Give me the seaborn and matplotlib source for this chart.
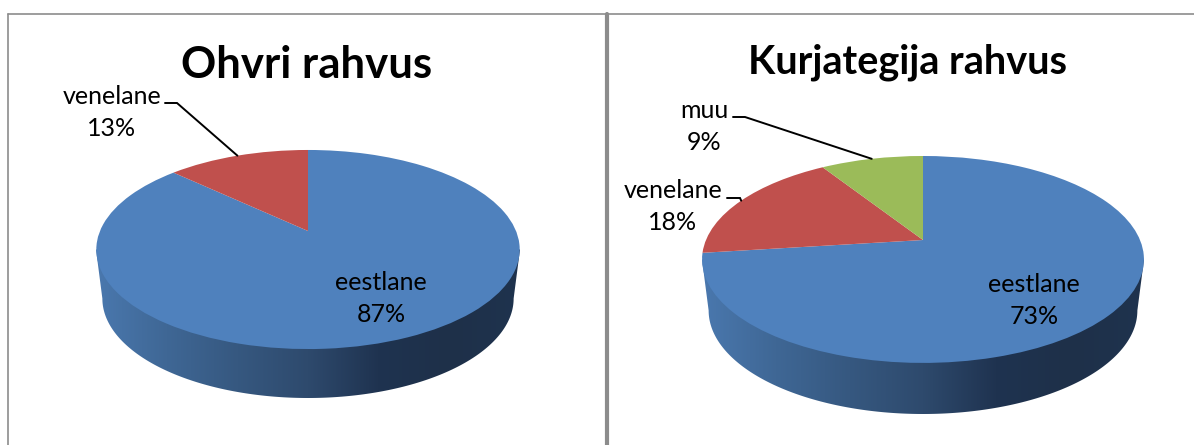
import numpy as np
import matplotlib
matplotlib.use('Agg')
import matplotlib.pyplot as plt
import seaborn as sns
from matplotlib.colors import ListedColormap
from matplotlib.patches import PathPatch
from matplotlib.path import Path
from matplotlib.transforms import Transform

# data
titles = ['Ohvri rahvus', 'Kurjategija rahvus']
victim_labels = ['eestlane', 'venelane']
victim_values = [87, 13]
offender_labels = ['eestlane', 'venelane', 'muu']
offender_values = [73, 18, 9]

W, H = 1194, 445
slice_colors = sns.color_palette(['#4F81BD', '#C0504D', '#9BBB59'])
GRID = '#8c8c8c'


class Perspective(Transform):
    """Tilts the unit circle of a pie onto the page, near edge larger than far edge."""
    input_dims = 2
    output_dims = 2

    def __init__(self, cx, cy, a, b, k):
        super().__init__()
        self.cx, self.cy, self.a, self.b, self.k = cx, cy, a, b, k

    def transform_non_affine(self, xy):
        xy = np.asarray(xy)
        w = 1 + self.k * xy[:, 1]
        return np.column_stack([self.cx + self.a * xy[:, 0] / w,
                                self.cy - self.b * xy[:, 1] / w])


def side_gradient():
    stops = ['#4a78ae', '#3f6795', '#365880', '#2e4a6d', '#1f3350', '#1e3049', '#1f334e']
    return ListedColormap(sns.blend_palette(stops, n_colors=256))


def draw_pie(ax, title, labels, values, geo):
    persp = Perspective(geo['cx'], geo['apex'], geo['a'], geo['b'], geo['k'])

    # side of the disc, gradient clipped to the outline
    rx, ry = geo['rx'], geo['ry']
    t = np.linspace(np.pi, 2 * np.pi, 200)
    low_x = geo['cx'] + rx * 0.97 * np.cos(t)
    low_y = geo['ecy'] + geo['depth'] - ry * np.sin(t)
    outline = np.vstack([[[geo['cx'] - rx, geo['ecy']]],
                         np.column_stack([low_x, low_y]),
                         [[geo['cx'] + rx, geo['ecy']]]])
    clip = PathPatch(Path(np.vstack([outline, outline[:1]]), closed=True),
                     transform=ax.transData, fc='none', ec='none')
    ax.add_patch(clip)
    im = ax.imshow(np.linspace(0, 1, 256)[None, :], cmap=side_gradient(), aspect='auto',
                   extent=(geo['cx'] - rx, geo['cx'] + rx, geo['ecy'] + ry + geo['depth'], geo['ecy']),
                   zorder=1)
    im.set_clip_path(clip)

    wedges, _ = ax.pie(values, colors=slice_colors[:len(values)], startangle=90,
                       counterclock=False, frame=True, wedgeprops=dict(linewidth=0))
    for w in wedges:
        w.set_transform(persp + ax.transData)
        w.set_zorder(2)

    ax.text(geo['title'][0], geo['title'][1], title, ha='center', va='center',
            fontsize=geo['title_size'], fontweight='bold', color='black', zorder=5)

    # slice labels, with leader lines running to the middle of the rim
    fractions = np.cumsum(values) / np.sum(values)
    mids = fractions - np.array(values) / np.sum(values) / 2
    for i, lab in enumerate(labels):
        lx, ly = geo['labels'][i]
        ax.text(lx, ly, lab, ha='center', va='center', fontsize=18, color='black', zorder=5)
        ax.text(lx, ly + 32, f'{values[i]}%', ha='center', va='center', fontsize=18,
                color='black', zorder=5)
        if geo['leaders'][i] is not None:
            ang = 2 * np.pi * mids[i]
            end = persp.transform_non_affine(np.array([[np.sin(ang), np.cos(ang)]]))[0]
            x0, x1, y0 = geo['leaders'][i]
            ax.plot([x0, x1, end[0]], [y0, y0, end[1]], color='black', lw=1.4, zorder=4,
                    solid_joinstyle='miter')


sns.set_theme(style='white')
plt.rcParams['font.family'] = ['Lato', 'DejaVu Sans']

fig = plt.figure(figsize=(W / 100, H / 100), dpi=100, facecolor='white')
ax = fig.add_axes([0, 0, 1, 1])

geo_left = dict(cx=308, apex=231, a=208, b=96.1, k=0.186, rx=212, ry=99.5, ecy=249.5, depth=49,
                title=(307, 65), title_size=31.5,
                labels=[(381, 282), (112, 97)], leaders=[None, (165, 177, 103)])
geo_right = dict(cx=923, apex=240, a=217, b=99.8, k=0.188, rx=221, ry=103.5, ecy=259.5, depth=51,
                 title=(907, 62), title_size=28.5,
                 labels=[(1034, 285), (673, 191), (704, 111)],
                 leaders=[None, (727, 740, 198), (733, 745, 117)])

draw_pie(ax, titles[0], victim_labels, victim_values, geo_left)
draw_pie(ax, titles[1], offender_labels, offender_values, geo_right)

# frames of the two charts
ax.plot([8, 8], [13.5, H], color=GRID, lw=1.2, zorder=6)
ax.plot([8, W], [13.5, 13.5], color=GRID, lw=1.2, zorder=6)
ax.plot([607, 607], [13.5, H], color=GRID, lw=3, zorder=6)

ax.set_aspect('auto')
ax.set_xlim(0, W)
ax.set_ylim(H, 0)
ax.axis('off')

fig.savefig('out.png', dpi=100, facecolor='white')
